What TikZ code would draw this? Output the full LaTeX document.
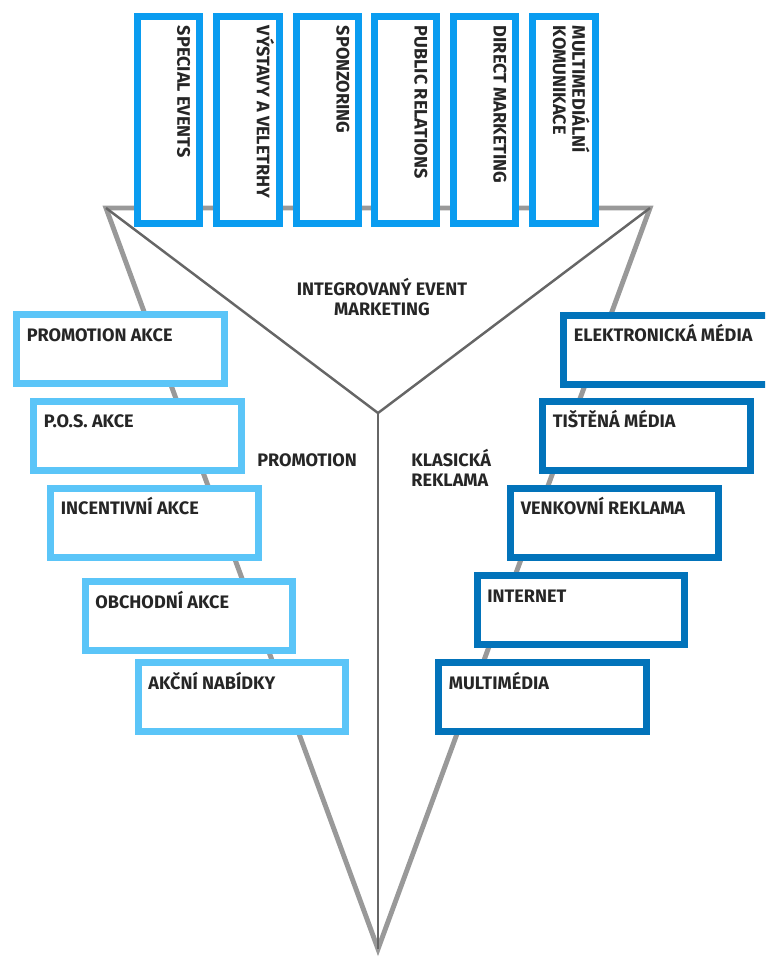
\documentclass[tikz,border=0pt]{standalone}
\usepackage{fontspec}
\setmainfont{Fira Sans}
\definecolor{topblue}{HTML}{0A9CF0}
\definecolor{promoblue}{HTML}{5BC5F8}
\definecolor{reklamablue}{HTML}{0273BA}
\definecolor{funnelgray}{HTML}{999999}
\definecolor{axisgray}{HTML}{666666}
\tikzset{
  boxtext/.style={font=\fontsize{10.3}{11}\selectfont\bfseries, inner sep=0pt, text=black!85},
  sidebox/.style={draw, fill=white, line width=0.14cm, minimum width=4.16cm, minimum height=1.38cm, inner sep=0pt},
  topbox/.style={draw=topblue, fill=white, line width=0.14cm, minimum width=1.26cm, minimum height=4.14cm, inner sep=0pt},
}
\begin{document}
\begin{tikzpicture}[x=0.02cm, y=-0.02cm]
  \useasboundingbox (0,0) rectangle (765,961);
  \clip (0,0) rectangle (765,961);

  % funnel
  \coordinate (tl) at (106,208);
  \coordinate (tr) at (650,208);
  \coordinate (apex) at (378,949);
  \coordinate (mid) at (378,413);
  \draw[funnelgray, line width=2.8pt] (tl) -- (tr) -- (apex) -- cycle;
  \draw[axisgray, line width=1.4pt] (tl) -- (mid) -- (tr);
  \draw[axisgray, line width=1.4pt] (mid) -- (apex);

  % top boxes
  \foreach \name/\x/\txt in {t1/168.5/SPECIAL EVENTS, t2/248/VÝSTAVY A VELETRHY,
                             t3/327.5/SPONZORING, t4/405.5/PUBLIC RELATIONS,
                             t5/484.5/DIRECT MARKETING} {
    \node[topbox] (\name) at (\x,120) {};
    \node[boxtext, rotate=-90, anchor=base west] at ([xshift=-0.52cm, yshift=-0.25cm]\name.north east) {\txt};
  }
  \node[topbox] (t6) at (564,120) {};
  \node[boxtext, rotate=-90, anchor=base west, align=left] at ([xshift=-0.92cm, yshift=-0.25cm]t6.north east) {MULTIMEDIÁLNÍ\\KOMUNIKACE};

  % promotion
  \foreach \name/\x/\y/\txt in {p1/120.5/349/PROMOTION AKCE, p2/137.5/435.5/P.O.S. AKCE,
                                p3/154.5/522.5/INCENTIVNÍ AKCE, p4/189/616/OBCHODNÍ AKCE,
                                p5/242/697/AKČNÍ NABÍDKY} {
    \node[sidebox, draw=promoblue] (\name) at (\x,\y) {};
    \node[boxtext, anchor=base west] at ([xshift=0.27cm, yshift=-0.6cm]\name.north west) {\txt};
  }

  % klasicka reklama
  \foreach \name/\x/\y/\txt in {r1/667.5/349.5/ELEKTRONICKÁ MÉDIA, r2/646.5/435.5/TIŠTĚNÁ MÉDIA,
                                r3/614.5/522.5/VENKOVNÍ REKLAMA, r4/581/610/INTERNET,
                                r5/542.5/697/MULTIMÉDIA} {
    \node[sidebox, draw=reklamablue] (\name) at (\x,\y) {};
    \node[boxtext, anchor=base west] at ([xshift=0.27cm, yshift=-0.6cm]\name.north west) {\txt};
  }

  % labels
  \node[boxtext, align=center, anchor=base] (iem) at (382,315) {INTEGROVANÝ EVENT\\MARKETING};
  \node[boxtext, anchor=base west] (promo) at (257,466) {PROMOTION};
  \node[boxtext, anchor=base west, align=left] (klasik) at (411,486) {KLASICKÁ\\REKLAMA};
\end{tikzpicture}
\end{document}
